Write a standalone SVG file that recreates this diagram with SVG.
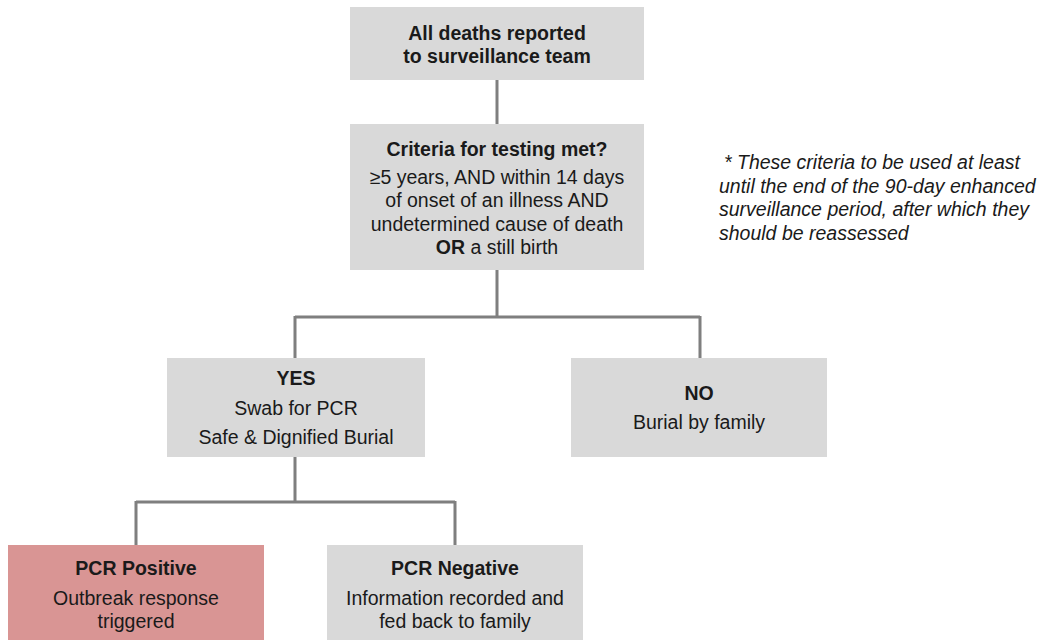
<svg xmlns="http://www.w3.org/2000/svg" width="1042" height="640" viewBox="0 0 1042 640">
<style>
.box{fill:#d9d9d9}
.pos{fill:#d99594}
.t{font-family:"Liberation Sans",Arial,sans-serif;font-size:19.5px;fill:#1a1a1a;text-anchor:middle}
.b{font-weight:bold}
.note{font-family:"Liberation Sans",Arial,sans-serif;font-size:19.5px;font-style:italic;fill:#1a1a1a}
.c{fill:none;stroke:#7f7f7f;stroke-width:3}
</style>
<rect width="1042" height="640" fill="#ffffff"/>
<g id="connectors">
<path class="c" d="M497 80V124"/>
<path class="c" d="M497 270V317M295 317H700M295 316V358M700 316V358"/>
<path class="c" d="M295 457V502M136 502H455M136 501V545M455 501V545"/>
</g>
<g id="n1">
<rect class="box" x="350" y="7" width="294" height="73"/>
<text class="t b" x="497" y="40">All deaths reported</text>
<text class="t b" x="497" y="63">to surveillance team</text>
</g>
<g id="n2">
<rect class="box" x="350" y="124" width="294" height="146"/>
<text class="t b" x="497" y="156">Criteria for testing met?</text>
<text class="t" x="497" y="184">≥5 years, AND within 14 days</text>
<text class="t" x="497" y="207">of onset of an illness AND</text>
<text class="t" x="497" y="231">undetermined cause of death</text>
<text class="t" x="497" y="254"><tspan class="b">OR</tspan> a still birth</text>
</g>
<g id="note">
<text class="note" x="724" y="169"> * These criteria to be used at least</text>
<text class="note" x="719" y="193">until the end of the 90-day enhanced</text>
<text class="note" x="719" y="216">surveillance period, after which they</text>
<text class="note" x="719" y="240">should be reassessed</text>
</g>
<g id="yes">
<rect class="box" x="167" y="358" width="258" height="99"/>
<text class="t b" x="296" y="385">YES</text>
<text class="t" x="296" y="415">Swab for PCR</text>
<text class="t" x="296" y="444">Safe &amp; Dignified Burial</text>
</g>
<g id="no">
<rect class="box" x="571" y="358" width="256" height="99"/>
<text class="t b" x="699" y="400">NO</text>
<text class="t" x="699" y="429">Burial by family</text>
</g>
<g id="pos">
<rect class="pos" x="8" y="545" width="256" height="100"/>
<text class="t b" x="136" y="575">PCR Positive</text>
<text class="t" x="136" y="605">Outbreak response</text>
<text class="t" x="136" y="628">triggered</text>
</g>
<g id="neg">
<rect class="box" x="327" y="545" width="256" height="100"/>
<text class="t b" x="455" y="575">PCR Negative</text>
<text class="t" x="455" y="605">Information recorded and</text>
<text class="t" x="455" y="628">fed back to family</text>
</g>
</svg>
